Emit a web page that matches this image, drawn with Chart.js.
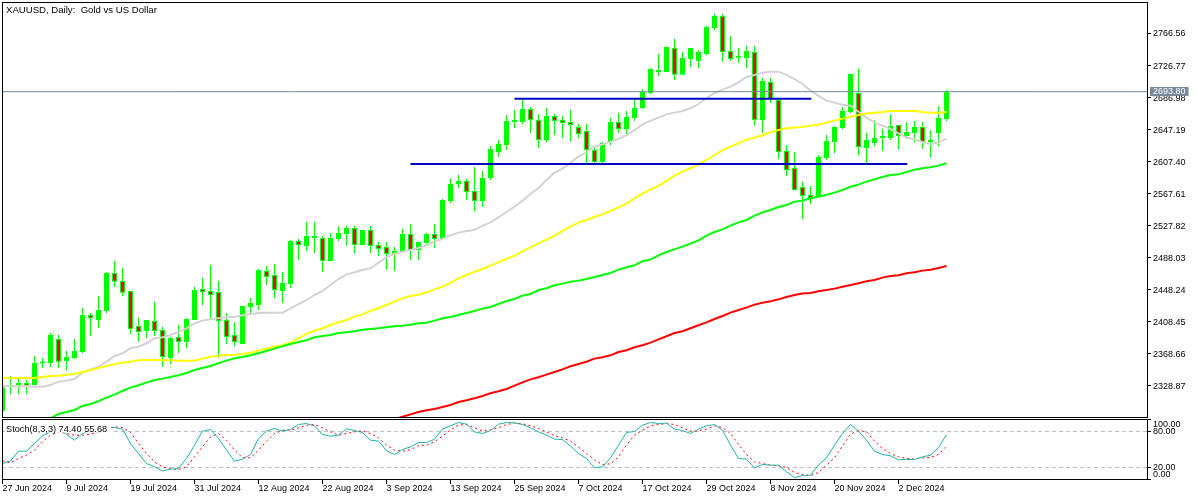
<!DOCTYPE html>
<html><head><meta charset="utf-8">
<style>html,body{margin:0;padding:0;background:#fff;overflow:hidden}canvas{position:absolute;left:0;display:block}</style>
<script src="https://cdn.jsdelivr.net/npm/chart.js@4/dist/chart.umd.min.js"></script>
</head><body>
<canvas id="main" width="1200" height="419" style="top:0"></canvas>
<canvas id="stoch" width="1200" height="82" style="top:418px"></canvas>
<script>
const chartTitle = "XAUUSD, Daily:  Gold vs US Dollar";
const stochTitle = "Stoch(8,3,3) 74.40 55.68";
const dateLabels = ["27 Jun 2024","9 Jul 2024","19 Jul 2024","31 Jul 2024","12 Aug 2024","22 Aug 2024","3 Sep 2024","13 Sep 2024","25 Sep 2024","7 Oct 2024","17 Oct 2024","29 Oct 2024","8 Nov 2024","20 Nov 2024","2 Dec 2024"];
const barsPerDateLabel = 8;
const priceTicks = [2766.56,2726.77,2686.98,2647.19,2607.40,2567.61,2527.82,2488.03,2448.24,2408.45,2368.66,2328.87];
const lastPrice = 2693.80;
const lastPriceTagTick = 2695.3;
const stochTicks = [100,80,20,0];
const stochLevels = [80,20];
const resistanceLevel = 2685.1, resistanceFrom = 64, resistanceTo = 101.1;
const supportLevel = 2604.1, supportFrom = 51, supportTo = 113.1;

const opens = [
2297.9,2327.2,2329.3,2332.6,2330.1,2356.6,2357.4,2387.2,2359.9,2363.6,
2371.0,2416.9,2410.7,2421.9,2469.0,2459.1,2446.7,2403.3,2397.1,2409.5,
2398.3,2363.6,2389.6,2383.4,2410.7,2449.1,2446.7,2445.4,2410.7,2392.1,
2381.0,2426.8,2429.3,2471.5,2466.5,2446.7,2455.3,2508.7,2502.5,2512.4,
2512.4,2483.9,2511.2,2517.4,2524.8,2503.7,2522.3,2503.7,2501.2,2492.6,
2495.0,2517.4,2497.5,2506.2,2517.4,2511.2,2558.3,2579.3,2583.1,2570.7,
2558.3,2586.8,2619.0,2627.7,2656.2,2656.2,2672.3,2658.7,2633.9,2663.6,
2658.7,2656.2,2650.0,2645.1,2621.5,2606.6,2631.4,2656.2,2647.5,2661.2,
2673.6,2692.2,2718.2,2718.2,2748.0,2714.9,2734.3,2731.9,2740.5,2772.8,
2787.7,2744.3,2736.0,2735.6,2743.0,2658.7,2705.8,2683.5,2620.3,2599.2,
2575.6,2565.7,2564.5,2611.6,2631.4,2648.8,2668.6,2692.2,2624.0,2630.2,
2636.4,2636.4,2652.5,2638.9,2642.6,2650.0,2631.4,2642.6,2659.9];
const highs = [
2329.0,2341.3,2338.4,2336.3,2366.1,2363.6,2394.6,2392.1,2372.3,2387.2,
2425.6,2419.4,2440.5,2470.2,2483.9,2475.2,2446.7,2413.2,2410.7,2433.0,
2402.0,2389.6,2404.5,2413.2,2451.6,2462.8,2478.9,2459.1,2419.4,2408.2,
2428.1,2438.0,2473.9,2477.7,2480.1,2470.2,2509.9,2511.1,2532.2,2532.2,
2514.9,2518.6,2527.3,2527.3,2527.3,2522.3,2527.3,2507.4,2507.4,2501.2,
2523.6,2529.8,2507.4,2518.6,2529.8,2560.7,2586.8,2590.5,2585.5,2600.4,
2595.5,2626.5,2633.9,2664.9,2671.1,2683.5,2674.8,2666.1,2673.6,2666.1,
2663.6,2671.1,2653.7,2653.7,2625.2,2631.4,2661.2,2667.4,2669.9,2683.5,
2697.2,2723.2,2740.5,2749.2,2759.1,2743.0,2748.0,2745.5,2775.3,2790.1,
2790.1,2762.9,2748.0,2750.5,2750.5,2710.8,2710.8,2684.8,2627.7,2619.0,
2581.8,2576.9,2615.3,2640.1,2651.3,2674.8,2715.7,2721.9,2642.6,2658.7,
2647.5,2666.1,2652.5,2656.2,2657.5,2656.2,2646.3,2676.1,2695.9];
const lows = [
2296.0,2319.0,2319.0,2319.0,2330.1,2351.2,2352.4,2351.2,2348.7,2362.4,
2369.8,2390.9,2400.8,2419.4,2451.6,2440.5,2393.3,2383.4,2388.4,2390.9,
2352.4,2356.2,2369.8,2376.0,2410.7,2429.3,2411.9,2363.6,2381.0,2378.5,
2380.9,2418.1,2423.1,2454.1,2438.0,2431.8,2450.4,2485.1,2496.3,2493.8,
2470.2,2483.9,2508.7,2502.5,2492.6,2503.7,2493.8,2490.1,2472.7,2471.5,
2495.0,2485.1,2485.1,2505.0,2500.0,2511.2,2555.8,2574.4,2559.5,2545.9,
2550.8,2584.3,2612.8,2621.5,2648.8,2653.7,2642.6,2624.0,2631.4,2640.1,
2636.4,2631.4,2636.4,2605.4,2605.4,2605.4,2627.7,2642.6,2641.3,2657.5,
2672.3,2690.9,2713.3,2718.2,2708.3,2714.5,2724.4,2723.2,2739.3,2770.3,
2730.6,2731.9,2729.4,2723.2,2651.3,2642.6,2679.8,2610.3,2589.3,2571.9,
2536.0,2554.6,2563.2,2609.1,2617.8,2647.5,2667.4,2615.3,2605.4,2626.5,
2620.3,2633.9,2621.5,2635.2,2631.4,2622.8,2611.6,2626.5,2657.5];
const closes = [
2327.2,2327.6,2332.6,2329.3,2357.4,2357.4,2392.1,2359.0,2364.8,2372.3,
2416.9,2412.4,2423.1,2469.0,2458.2,2444.6,2399.5,2395.8,2410.7,2397.1,
2364.8,2388.4,2383.4,2411.9,2447.9,2445.4,2441.7,2409.5,2389.6,2383.4,
2428.1,2431.8,2472.7,2464.0,2447.9,2456.6,2508.7,2503.7,2514.9,2514.9,
2483.9,2512.4,2518.6,2524.8,2503.7,2522.3,2502.5,2498.8,2492.6,2496.3,
2517.4,2497.5,2507.4,2517.4,2511.2,2559.5,2579.3,2583.1,2569.4,2558.3,
2586.8,2622.7,2628.9,2657.5,2657.5,2672.3,2658.7,2633.9,2663.6,2657.5,
2655.0,2652.5,2641.3,2621.5,2606.6,2630.2,2656.2,2647.5,2662.4,2673.6,
2693.4,2721.9,2720.7,2749.2,2714.9,2735.6,2748.0,2743.0,2774.0,2787.7,
2743.0,2734.3,2738.1,2744.3,2658.7,2707.1,2684.8,2619.0,2596.7,2571.9,
2564.5,2560.8,2612.8,2632.7,2650.0,2669.9,2715.7,2625.2,2633.9,2636.4,
2638.9,2651.3,2638.9,2643.8,2650.0,2631.4,2632.7,2661.2,2693.8];

const maGray = [
2328.9,2328.5,2328.5,2328.5,2328.0,2328.0,2330.1,2334.2,2335.5,2337.5,
2345.4,2349.5,2352.8,2359.0,2366.1,2369.4,2375.6,2377.6,2381.8,2388.0,
2389.2,2392.1,2395.8,2400.4,2406.6,2409.9,2411.5,2412.8,2414.0,2414.8,
2416.5,2418.1,2419.4,2419.8,2419.8,2419.8,2425.2,2430.5,2435.5,2441.7,
2446.7,2454.1,2461.5,2467.3,2469.8,2472.7,2474.8,2481.8,2488.4,2492.6,
2495.4,2497.5,2500.0,2503.3,2507.8,2511.2,2515.7,2519.0,2521.1,2522.3,
2527.3,2531.8,2538.0,2544.6,2551.2,2558.7,2566.9,2574.4,2584.3,2593.4,
2598.4,2605.8,2613.2,2619.0,2625.6,2628.5,2631.8,2635.2,2640.0,2646.0,
2653.3,2657.5,2661.6,2665.7,2667.8,2669.9,2673.2,2678.5,2685.6,2692.2,
2696.3,2700.0,2705.4,2712.0,2714.5,2717.4,2718.6,2718.6,2714.7,2709.5,
2703.3,2695.1,2688.5,2682.7,2680.2,2677.7,2676.5,2669.0,2661.6,2655.8,
2651.7,2647.5,2642.2,2636.8,2634.7,2631.4,2628.9,2631.0,2635.6];
const maYellow = [
2338.8,2338.8,2338.8,2338.8,2338.8,2340.0,2341.3,2341.7,2342.9,2343.8,
2346.2,2348.7,2351.2,2353.7,2355.7,2357.8,2359.0,2360.7,2361.1,2361.1,
2360.7,2360.7,2360.3,2360.3,2360.3,2362.8,2365.2,2366.5,2367.3,2367.7,
2368.6,2370.2,2372.7,2375.2,2377.6,2379.3,2382.6,2388.0,2393.4,2397.3,
2400.4,2404.5,2407.8,2410.7,2414.8,2417.7,2421.9,2425.2,2429.3,2433.4,
2437.6,2440.5,2442.1,2445.0,2448.7,2452.0,2456.6,2462.4,2466.5,2470.6,
2473.9,2478.1,2482.2,2486.3,2490.5,2495.9,2500.8,2505.8,2510.3,2514.9,
2521.1,2526.4,2531.4,2534.7,2538.4,2541.7,2545.9,2550.4,2555.0,2561.6,
2567.4,2572.7,2576.9,2583.1,2589.7,2594.6,2598.8,2603.7,2609.1,2615.3,
2621.1,2625.6,2629.8,2634.3,2636.8,2639.7,2643.4,2646.3,2648.4,2649.4,
2650.0,2651.7,2652.9,2655.4,2657.9,2660.4,2662.8,2664.9,2666.6,2667.8,
2668.6,2669.9,2669.9,2669.9,2669.9,2668.6,2667.8,2667.8,2668.6];
const maGreen = [
null,null,null,null,null,2284.6,2288.8,2294.2,2296.6,2299.1,
2304.1,2306.5,2309.9,2314.4,2318.1,2322.7,2326.8,2329.7,2333.0,2336.3,
2338.0,2340.0,2342.1,2345.0,2348.7,2351.2,2353.7,2357.0,2360.3,2363.2,
2364.8,2366.9,2369.4,2372.3,2375.2,2378.1,2380.9,2383.4,2385.5,2389.2,
2390.9,2392.1,2394.6,2395.4,2396.7,2398.7,2399.5,2400.4,2401.6,2402.9,
2403.7,2404.9,2406.6,2407.4,2409.9,2412.8,2414.4,2416.9,2419.4,2421.9,
2424.8,2426.8,2430.5,2434.3,2436.7,2440.9,2442.9,2447.9,2450.0,2453.7,
2455.8,2458.2,2459.5,2461.5,2464.0,2466.5,2469.0,2473.1,2476.0,2478.5,
2483.5,2485.5,2490.9,2495.0,2498.3,2501.6,2505.4,2509.5,2515.3,2519.8,
2523.1,2527.7,2531.8,2534.7,2540.1,2544.2,2547.1,2550.8,2553.3,2557.4,
2558.7,2561.6,2563.6,2566.1,2568.6,2571.9,2576.0,2578.5,2582.2,2585.1,
2588.0,2590.5,2591.3,2594.2,2597.1,2598.8,2600.0,2602.1,2605.0];
const maRed = [
null,null,null,null,null,null,null,null,null,null,
null,null,null,null,null,null,null,null,null,null,
null,null,null,null,null,null,null,null,null,null,
null,null,null,null,null,null,null,null,null,null,
null,null,null,null,null,null,null,null,null,2287.6,
2290.8,2293.7,2296.6,2298.7,2300.4,2302.8,2305.3,2309.0,2311.1,2313.6,
2316.5,2319.8,2322.3,2325.2,2329.3,2333.4,2337.1,2339.6,2342.9,2346.2,
2349.5,2353.3,2356.1,2359.0,2362.8,2364.4,2366.9,2371.0,2373.1,2376.8,
2379.3,2382.6,2386.7,2390.5,2394.6,2396.7,2400.4,2404.1,2407.8,2411.9,
2415.7,2419.8,2423.1,2426.0,2429.7,2432.2,2433.8,2436.3,2439.2,2441.7,
2443.4,2444.2,2446.3,2447.9,2449.6,2452.0,2454.1,2456.2,2458.6,2460.3,
2463.2,2465.3,2466.1,2468.6,2469.8,2471.9,2473.1,2475.2,2477.7];
const stochMain = [
26.6,31.1,47.2,47.2,60.0,72.8,79.4,85.0,75.0,65.5,
76.6,82.2,85.0,87.2,86.6,83.9,60.0,43.3,26.6,21.1,
14.4,17.2,18.3,35.0,57.2,80.5,83.3,68.3,48.9,30.5,
33.9,41.6,68.3,80.5,85.0,80.5,83.3,91.6,93.3,89.4,
75.0,72.2,73.9,84.4,81.6,78.3,65.5,63.9,47.8,41.6,
50.0,54.4,61.6,61.6,67.2,83.9,89.4,95.0,92.2,79.4,
76.6,81.6,92.2,95.0,94.4,91.6,86.1,79.4,73.9,67.2,
66.6,55.5,43.3,35.0,19.4,21.1,36.1,57.2,78.3,80.0,
90.5,95.0,93.3,93.9,83.9,81.6,76.6,83.9,89.4,91.6,
82.2,57.2,35.0,33.9,19.4,25.0,23.9,23.9,12.8,3.3,
6.6,7.2,23.9,36.1,57.2,76.6,91.6,80.5,65.5,47.2,
41.6,39.4,32.8,33.3,33.3,37.7,40.5,53.3,74.40];
const stochSignal = [
31.1,27.7,35.0,40.5,48.9,62.8,73.9,79.4,76.6,73.9,
73.9,75.5,79.4,83.9,87.8,86.6,78.3,60.0,43.3,29.4,
21.1,18.3,16.6,21.1,37.7,54.4,71.1,76.6,65.5,48.9,
36.6,36.1,48.9,63.9,76.6,82.2,82.2,86.1,90.5,91.6,
86.1,79.4,73.9,76.6,79.4,81.1,76.6,69.4,57.2,48.9,
47.2,49.4,56.6,57.2,62.8,72.2,82.8,90.5,91.6,86.1,
81.1,82.8,86.1,91.6,93.9,92.8,89.4,85.0,79.4,72.8,
69.4,63.9,53.9,43.3,32.2,25.0,26.1,37.7,57.2,73.9,
82.2,89.4,91.6,93.3,91.6,86.1,80.5,81.1,83.9,89.4,
86.6,76.6,58.3,41.6,29.4,26.6,23.9,22.7,20.0,11.6,
8.3,6.6,11.6,23.9,36.1,56.1,75.5,81.6,79.4,63.9,
51.6,43.3,37.7,35.0,33.9,36.1,36.6,41.6,55.68];

const FONT = "'Liberation Sans'";
const xMin = -0.0625, xMax = 143.0625;
const tickFont = {family:FONT,size:9,lineHeight:1};
const pts = a => a.map((v,i)=>({x:i,y:v}));
const flat = (a,b) => a.map((v,i)=>({x:i,y:[v,b[i]]}));
const lineDs = (label,data,color,width,extra) => Object.assign({type:'line',label,data,borderColor:color,backgroundColor:color,borderWidth:width,pointRadius:0,pointHitRadius:0,tension:0,spanGaps:false,borderCapStyle:'butt',borderJoinStyle:'miter'},extra||{});
const barBase = {grouped:false,inflateAmount:0,borderSkipped:false,borderRadius:0};
const noPad = s => { s.paddingLeft=0; s.paddingRight=0; s.paddingTop=0; s.paddingBottom=0; };
const isTag = c => !!(c.tick && c.tick.value===lastPriceTagTick);

function framePlugin(id, text, textY, fontSize, patch){
  return {id, afterDatasetsDraw(chart){
    const c = chart.ctx, a = chart.chartArea;
    c.save();
    if (patch){ c.fillStyle='#fff'; c.fillRect(patch[0],patch[1],patch[2],patch[3]); }
    c.strokeStyle='#000'; c.lineWidth=1;
    c.strokeRect(a.left+.5,a.top+.5,a.right-a.left,a.bottom-a.top);
    c.fillStyle='#000'; c.font=fontSize+"px "+FONT; c.textBaseline='middle'; c.textAlign='left';
    c.fillText(text,6,textY);
    c.restore();
  }};
}
const common = {responsive:false,animation:false,devicePixelRatio:1,events:[],
  plugins:{legend:{display:false},tooltip:{enabled:false},title:{display:false}}};
const yGrid = {drawOnChartArea:false,drawTicks:true,tickLength:4,
  tickColor:c=>isTag(c)?'rgba(0,0,0,0)':'#000'};

new Chart(document.getElementById('main'),{
  type:'bar',
  data:{datasets:[
    lineDs('resistance',[{x:resistanceFrom,y:resistanceLevel},{x:resistanceTo,y:resistanceLevel}],'#0000c8',2),
    lineDs('support',[{x:supportFrom,y:supportLevel},{x:supportTo,y:supportLevel}],'#0000c8',2),
    lineDs('bid',[{x:xMin,y:lastPrice},{x:xMax,y:lastPrice}],'#778899',1),
    lineDs('ma red',pts(maRed),'#ff0000',2),
    lineDs('ma green',pts(maGreen),'#00ff00',2),
    lineDs('ma yellow',pts(maYellow),'#ffff00',2),
    lineDs('ma gray',pts(maGray),'#d3d3d3',2),
    Object.assign({label:'body',data:flat(opens,closes),barThickness:5,minBarLength:2,borderWidth:1,borderColor:'#00ff00',
      backgroundColor:c=>closes[c.dataIndex]>=opens[c.dataIndex]?'#00ff00':'#ff0000'},barBase),
    Object.assign({label:'wick',data:flat(lows,highs),barThickness:1,borderWidth:0,backgroundColor:'#00ff00'},barBase)
  ]},
  options:Object.assign({},common,{
    layout:{padding:{left:2,top:2,right:0,bottom:2}},
    scales:{
      x:{type:'linear',display:false,offset:false,min:xMin,max:xMax,afterFit:noPad},
      y:{type:'linear',position:'right',min:2290.4,max:2805.0,
        afterFit(s){s.width=53;noPad(s);},
        afterBuildTicks(s){s.ticks=priceTicks.concat([lastPriceTagTick]).map(v=>({value:v}));},
        border:{display:false},grid:yGrid,
        ticks:{autoSkip:false,padding:2,font:tickFont,align:'center',labelOffset:1,
          color:c=>isTag(c)?'#fff':'#000',
          showLabelBackdrop:c=>isTag(c),
          backdropColor:'#778899',backdropPadding:{left:3,right:3,top:0,bottom:0},
          callback:v=>(v===lastPriceTagTick?lastPrice:v).toFixed(2)}}
    }
  }),
  plugins:[framePlugin('frameMain',chartTitle,10,9.6,null)]
});

new Chart(document.getElementById('stoch'),{
  type:'line',
  data:{datasets:[
    lineDs('main',pts(stochMain),'#20b2aa',1),
    lineDs('signal',pts(stochSignal),'#ff0000',1,{borderDash:[2,3]}),
    lineDs('level80',[{x:xMin,y:stochLevels[0]},{x:xMax,y:stochLevels[0]}],'#c0c0c0',1,{borderDash:[4,3]}),
    lineDs('level20',[{x:xMin,y:stochLevels[1]},{x:xMax,y:stochLevels[1]}],'#c0c0c0',1,{borderDash:[4,3]})
  ]},
  options:Object.assign({},common,{
    layout:{padding:{left:2,top:1,right:0,bottom:0}},
    scales:{
      x:{type:'linear',position:'bottom',offset:false,min:xMin,max:xMax,
        afterFit(s){s.height=21;noPad(s);},
        afterBuildTicks(s){s.ticks=dateLabels.map((d,i)=>({value:i*barsPerDateLabel}));},
        border:{display:false},
        grid:{drawOnChartArea:false,drawTicks:true,tickLength:5,tickColor:'#000'},
        ticks:{autoSkip:false,maxRotation:0,minRotation:0,align:'start',padding:0,font:tickFont,color:'#000',
          callback:v=>dateLabels[Math.round(v/barsPerDateLabel)]}},
      y:{type:'linear',position:'right',min:0.8,max:100.8,
        afterFit(s){s.width=53;noPad(s);},
        afterBuildTicks(s){s.ticks=stochTicks.map(v=>({value:v}));},
        border:{display:false},
        grid:{drawOnChartArea:false,drawTicks:true,tickLength:4,tickColor:'#000'},
        ticks:{autoSkip:false,padding:2,font:{family:FONT,size:9,lineHeight:10/9},color:'#000',
          callback:v=>v===100?['','100.00']:(v===0?['0.00','']:v.toFixed(2))}}
    }
  }),
  plugins:[framePlugin('frameStoch',stochTitle,11,9.2,[5,2,106,12.5])]
});
</script>
</body></html>
